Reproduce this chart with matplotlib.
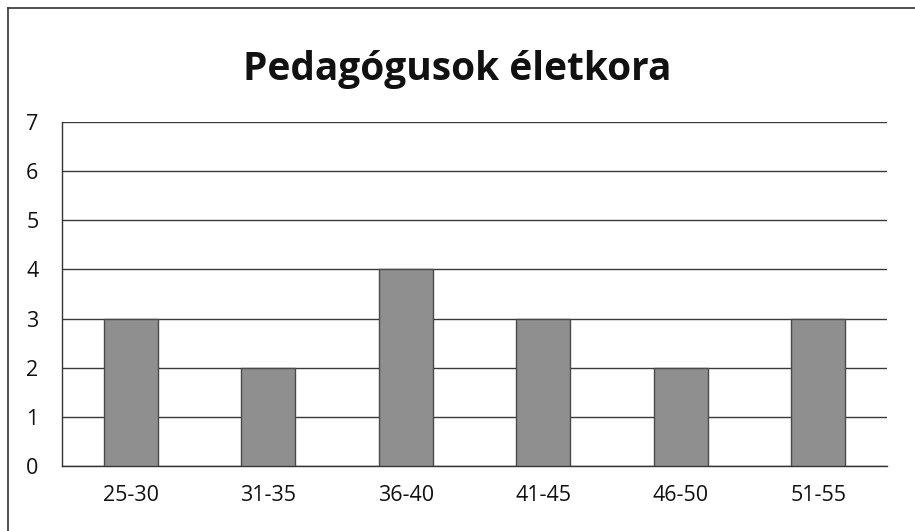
import matplotlib.pyplot as plt
from matplotlib.lines import Line2D

categories = ["25-30", "31-35", "36-40", "41-45", "46-50", "51-55"]
counts = [3, 2, 4, 3, 2, 3]
y_ticks = [0, 1, 2, 3, 4, 5, 6, 7]

plt.rcParams['font.family'] = ['Open Sans', 'DejaVu Sans']

fig = plt.figure(figsize=(9.15, 5.31), dpi=100)
ax = fig.add_axes([0.0678, 0.1224, 0.9016, 0.6478])

x = range(len(categories))
ax.bar(x, counts, width=0.39, color="#8f8f8f", edgecolor="#4a4a4a", linewidth=1.0, zorder=3)

ax.set_xlim(-0.5, len(categories) - 0.5)
ax.set_ylim(0, 7)
ax.set_yticks(y_ticks)
ax.set_xticks(list(x))
ax.set_xticklabels(categories)
ax.yaxis.grid(True, color="#3a3a3a", linewidth=1.0)
ax.set_axisbelow(True)
ax.tick_params(axis="both", length=0, labelsize=15.5, colors="#111111")
ax.tick_params(axis="y", pad=17)
ax.tick_params(axis="x", pad=14)

for side in ["top", "right"]:
    ax.spines[side].set_visible(False)
for side in ["left", "bottom"]:
    ax.spines[side].set_color("#333333")
    ax.spines[side].set_linewidth(1.0)

fig.text(0.50, 1 - 80 / 531, "Pedagógusok életkora", ha="center", va="baseline",
         fontsize=28, fontweight="bold", color="#111111")

# outer chart frame (only top and left edges fall inside the scan)
fig.add_artist(Line2D([8 / 915, 1], [1 - 8 / 531, 1 - 8 / 531], color="#333333", linewidth=1.2))
fig.add_artist(Line2D([8 / 915, 8 / 915], [0, 1 - 8 / 531], color="#333333", linewidth=1.2))

fig.savefig("out.png", dpi=100)
